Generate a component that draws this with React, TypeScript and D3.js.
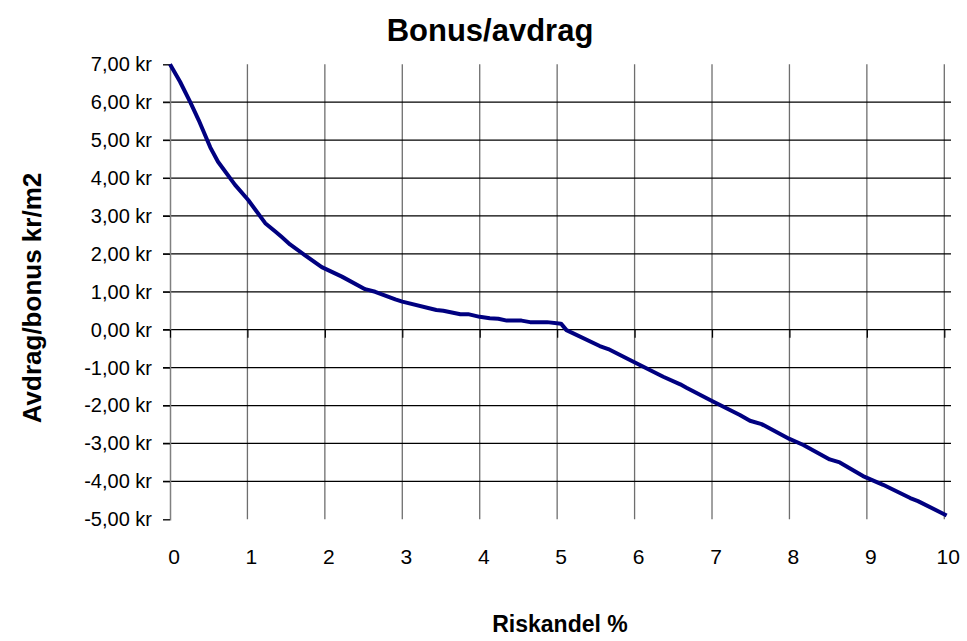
import React, { useEffect, useRef } from 'react'
import * as d3 from 'd3'

// values
const riskShare = [0, 0.13, 0.26, 0.37, 0.52, 0.62, 0.84, 1.01, 1.23, 1.36, 1.44, 1.55, 1.74, 1.96, 2.22, 2.52, 2.65, 2.91, 3.0, 3.44, 3.53, 3.75, 3.85, 4.0, 4.13, 4.24, 4.35, 4.54, 4.65, 4.87, 5.05, 5.12, 5.55, 5.66, 5.94, 6.37, 6.59, 6.67, 7.0, 7.36, 7.49, 7.64, 8.0, 8.18, 8.52, 8.65, 8.95, 9.21, 9.56, 9.66, 10.03]
const bonus = [7, 6.54, 6.01, 5.53, 4.81, 4.43, 3.82, 3.42, 2.81, 2.59, 2.45, 2.25, 1.97, 1.65, 1.40, 1.07, 1.00, 0.80, 0.74, 0.52, 0.50, 0.41, 0.41, 0.34, 0.30, 0.29, 0.24, 0.24, 0.20, 0.20, 0.16, -0.01, -0.43, -0.51, -0.80, -1.24, -1.44, -1.53, -1.88, -2.25, -2.40, -2.49, -2.88, -3.04, -3.42, -3.50, -3.86, -4.09, -4.44, -4.52, -4.90]
const xTicks = [0, 1, 2, 3, 4, 5, 6, 7, 8, 9, 10]
const yTicks = [7, 6, 5, 4, 3, 2, 1, 0, -1, -2, -3, -4, -5]

const title = 'Bonus/avdrag'
const xTitle = 'Riskandel %'
const yTitle = 'Avdrag/bonus kr/m2'

const font = "'Liberation Sans', Arial, sans-serif"

const App = () => {
    const ref = useRef<SVGSVGElement>(null)

    useEffect(() => {
        const svg = d3.select(ref.current)
        svg.selectAll('*').remove()

        const left = 170
        const right = 951
        const top = 64.3
        const bottom = 519.3

        const x = d3.scaleLinear().domain([0, 10]).range([left, 944.3])
        const y = d3.scaleLinear().domain([-5, 7]).range([bottom, top])

        // vertical grid lines
        svg.append('g')
            .selectAll('line')
            .data(xTicks.filter(d => d > 0))
            .join('line')
            .attr('x1', d => x(d)).attr('x2', d => x(d))
            .attr('y1', top).attr('y2', bottom)
            .attr('stroke', '#6e6e6e')
            .attr('stroke-width', 1.3)

        // horizontal grid lines
        svg.append('g')
            .selectAll('line')
            .data(yTicks.filter(d => d > -5 && d < 7))
            .join('line')
            .attr('x1', left - 7).attr('x2', right)
            .attr('y1', d => y(d)).attr('y2', d => y(d))
            .attr('stroke', '#000')
            .attr('stroke-width', 1.2)

        // y axis
        const yAxis = svg.append('g')
            .attr('transform', `translate(${left},0)`)
            .call(d3.axisLeft(y).tickValues(yTicks).tickSize(7).tickPadding(11)
                .tickFormat(d => (d as number).toFixed(2).replace('.', ',') + ' kr'))
        yAxis.select('.domain').attr('stroke', '#808080').attr('stroke-width', 1.5)
        yAxis.selectAll('.tick line').attr('stroke', '#000')
        yAxis.selectAll('text')
            .attr('font-family', font)
            .attr('font-size', 20)
            .attr('fill', '#000')

        // x axis sits on zero, labels at the bottom
        const xAxis = svg.append('g')
            .attr('transform', `translate(0,${y(0)})`)
            .call(d3.axisBottom(x).tickValues(xTicks).tickSize(8).tickFormat(() => ''))
        xAxis.select('.domain').remove()
        xAxis.selectAll('.tick line').attr('stroke', '#000').attr('stroke-width', 1.2)

        svg.append('g')
            .selectAll('text')
            .data(xTicks)
            .join('text')
            .attr('x', d => x(d) + 4)
            .attr('y', 564)
            .attr('text-anchor', 'middle')
            .attr('font-family', font)
            .attr('font-size', 21)
            .text(d => d)

        const line = d3.line<number>()
            .x((d, i) => x(riskShare[i]))
            .y(d => y(d))

        svg.append('path')
            .datum(bonus)
            .attr('d', line)
            .attr('fill', 'none')
            .attr('stroke', '#000080')
            .attr('stroke-width', 4)
            .attr('stroke-linejoin', 'round')

        svg.append('text')
            .attr('x', 490)
            .attr('y', 41)
            .attr('text-anchor', 'middle')
            .attr('font-family', font)
            .attr('font-weight', 'bold')
            .attr('font-size', 31)
            .text(title)

        svg.append('text')
            .attr('x', 560)
            .attr('y', 632)
            .attr('text-anchor', 'middle')
            .attr('font-family', font)
            .attr('font-weight', 'bold')
            .attr('font-size', 23)
            .text(xTitle)

        svg.append('text')
            .attr('transform', `translate(41,298) rotate(-90)`)
            .attr('text-anchor', 'middle')
            .attr('font-family', font)
            .attr('font-weight', 'bold')
            .attr('font-size', 26)
            .text(yTitle)
    }, [])

    return (
        <svg ref={ref} width={967} height={641}
            style={{ position: 'absolute', left: 0, top: 0, background: '#fff' }} />
    )
}

export default App
